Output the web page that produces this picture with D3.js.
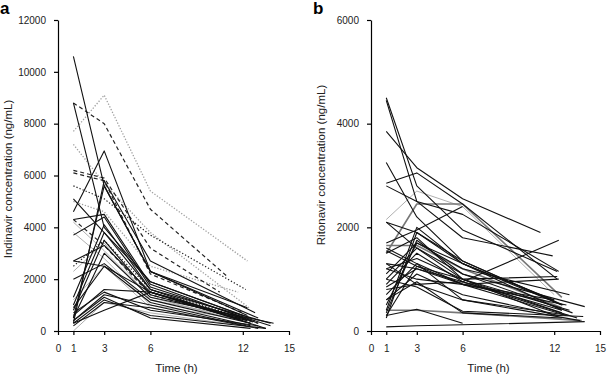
<!DOCTYPE html>
<html>
<head>
<meta charset="utf-8">
<script src="https://cdn.jsdelivr.net/npm/d3@7"></script>
<style>
  body { margin: 0; background: #fff; }
  text { font-family: "Liberation Sans", Arial, sans-serif; }
</style>
</head>
<body>
<div id="container"></div>
<script>
let w = 607;
let h = 375;

// DATA
// sampling times before the last sample, hours
let sampleTimes = [1, 3, 6];
let xTicks = [0, 1, 3, 6, 12, 15];
let indinavirTicks = [0, 2000, 4000, 6000, 8000, 10000, 12000];
let ritonavirTicks = [0, 2000, 4000, 6000];

// panel a: one row per subject -> [1h, 3h, 6h, last]
let indinavirConc = [
  [7700, 9100, 5400, 2700],
  [8800, 8000, 4700, 2100],
  [7200, 5700, 3800, 900],
  [5600, 5100, 3700, 1600],
  [6200, 5900, 3200, 1500],
  [6100, 5800, 2200, 700],
  [5000, 4600, 2500, 1500],
  [2500, 3500, 1600, 400],
  [4300, 3300, 1400, 300],
  [10600, 5600, 2300, 900],
  [8800, 4000, 1900, 500],
  [4600, 6950, 2300, 600],
  [300, 5800, 2700, 700],
  [500, 5600, 2300, 500],
  [5100, 3800, 1900, 600],
  [4300, 4500, 1800, 300],
  [3700, 4400, 1700, 200],
  [2700, 2500, 1500, 500],
  [2700, 3300, 1500, 100],
  [2000, 2600, 1200, 300],
  [1300, 4100, 1600, 300],
  [800, 3500, 1400, 400],
  [600, 1600, 1500, 300],
  [400, 1400, 1000, 200],
  [200, 1100, 900, 100],
  [300, 1200, 600, 100],
  [900, 2500, 1100, 200],
  [500, 3000, 1300, 300],
  [700, 1500, 800, 200],
  [400, 1300, 500, 100],
  [1000, 3800, 1600, 400],
  [300, 800, 1500, 400],
  [0, 1100, 700, 200],
  [4200, 3100, 1300, 300],
  [2300, 3400, 1200, 500],
  [1200, 2500, 900, 150],
  [3800, 2800, 1000, 400]
];
let indinavirLastTime = [12.3, 11, 12.4, 12.2, 10.5, 12, 11.7, 12.5, 13,
  12.3, 12.5, 12.3, 12.8, 13, 12, 13, 13.8, 12, 13.5, 12.5, 13.8, 12.3, 12.5,
  12.2, 13, 13.5, 12.5, 14, 13, 12.5, 12, 12.5, 12, 12.5, 12, 13, 12.5];
let indinavirStyle = ["dotg", "dash", "dotg", "dotk", "dash", "dash", "dotg", "dotk", "dash",
  "solid", "solid", "solid", "solid", "solid", "solid", "solid", "solid", "solid", "solid",
  "solid", "solid", "solid", "solid", "solid", "solid", "solid", "solid", "solid", "solid",
  "solid", "solid", "solid", "gray", "gray", "gray", "gray", "gray"];

// panel b: one row per subject -> [1h, 3h, 6h, last] (null = not sampled)
let ritonavirConc = [
  [4500, 2800, 1950, 1150],
  [4450, 2500, 1800, 1450],
  [3850, 3150, 2550, 1900],
  [3250, 2200, 1350, 500],
  [2850, 3050, 2450, 1000],
  [2800, 2500, 2250, 1150],
  [2150, 2700, 2400, 700],
  [2100, 1900, 1300, 500],
  [1700, 1950, 2400, null],
  [1650, 1650, 1200, 450],
  [1600, 1300, 900, 300],
  [1500, 1800, 1000, 400],
  [1300, 1200, 950, 1750],
  [1200, 1400, 1000, 1050],
  [1100, 1700, 1300, 600],
  [1000, 1600, 1100, 470],
  [900, 1500, 950, 400],
  [850, 1200, 900, 1000],
  [800, 900, 950, 250],
  [700, 1300, 600, 300],
  [600, 1100, 700, 300],
  [400, 2000, 1300, 400],
  [350, 1750, 1100, 350],
  [300, 1250, 1000, 300],
  [300, 420, 150, null],
  [80, 100, 120, 180],
  [400, 400, 350, 200],
  [250, 1900, 1350, 500],
  [1300, 900, 600, 200],
  [1200, 1000, 900, 600],
  [2100, 1600, 1000, 350],
  [500, 1700, 1200, 700],
  [1000, 850, 380, 280],
  [600, 950, 350, 250],
  [1550, 1250, 900, 500],
  [1500, 2450, 2450, 650]
];
let ritonavirLastTime = [12.2, 11.9, 11.1, 12.5, 12.2, 12.3, 12, 12.5, null, 12.5,
  12.8, 13, 12.3, 12.2, 12, 14, 12.5, 12.3, 13.5, 13, 12.3, 12.5, 13.2, 12,
  null, 14, 13.8, 12.6, 13.7, 12, 12.5, 13, 13.9, 12.5, 12.8, 12.5];
let ritonavirStyle = ["solid", "solid", "solid", "solid", "solid", "solid", "gray", "solid",
  "solid", "grayk", "solid", "solid", "solid", "solid", "solid", "solid", "solid", "solid",
  "solid", "solid", "solid", "solid", "solid", "solid", "solid", "solid", "grayk", "solid",
  "solid", "solid", "solid", "solid", "solid", "solid", "solid", "grayk"];

// line looks
let strokeOf = { solid: "#111", dash: "#222", dotk: "#222", dotg: "#a0a0a0", gray: "#9a9a9a", grayk: "#777" };
let widthOf = { solid: 1.1, dash: 1.2, dotk: 1.2, dotg: 1.3, gray: 0.8, grayk: 1.6 };
let dashOf = { solid: null, dash: "4,3", dotk: "1.3,2", dotg: "1.3,1.7", gray: null, grayk: null };

// SVG
let viz = d3.select("#container").append("svg")
    .attr("width", w)
    .attr("height", h)
    .style("background-color", "white")
;

function drawPanel(left, right, yMax, yTicks, conc, lastTime, styles, letter, yTitle, titleY) {
  let xScale = d3.scaleLinear().domain([0, 15]).range([left, right]);
  let yScale = d3.scaleLinear().domain([0, yMax]).range([331, 20]);

  // turn each subject row into points
  let subjects = conc.map(function(row, i){
    let pts = sampleTimes.map(function(t, j){ return { t: t, c: row[j] }; });
    if (lastTime[i] != null && row[3] != null) {
      pts.push({ t: lastTime[i], c: row[3] });
    }
    return { style: styles[i], pts: pts.filter(function(p){ return p.c != null; }) };
  });

  let lineMaker = d3.line()
      .x(function(d){ return xScale(d.t); })
      .y(function(d){ return yScale(d.c); })
  ;

  // grey / dotted ones underneath, black on top
  let order = { gray: 0, dotg: 1, grayk: 2, dotk: 3, dash: 4, solid: 5 };
  subjects.sort(function(a, b){ return order[a.style] - order[b.style]; });

  viz.append("g").selectAll("path").data(subjects).enter()
    .append("path")
      .attr("d", function(d){ return lineMaker(d.pts); })
      .attr("fill", "none")
      .attr("stroke", function(d){ return strokeOf[d.style]; })
      .attr("stroke-width", function(d){ return widthOf[d.style]; })
      .attr("stroke-dasharray", function(d){ return dashOf[d.style]; })
      .attr("stroke-linejoin", "round")
  ;

  // AXES
  let xAxis = d3.axisBottom(xScale).tickValues(xTicks).tickSize(4).tickSizeOuter(0).tickPadding(10);
  let xg = viz.append("g").attr("transform", "translate(0,331)").call(xAxis);
  let yAxis = d3.axisLeft(yScale).tickValues(yTicks).tickSize(4).tickSizeOuter(0).tickPadding(8);
  let yg = viz.append("g").attr("transform", "translate(" + left + ",0)").call(yAxis);
  [xg, yg].forEach(function(g){
    g.select(".domain").attr("stroke", "#000").attr("stroke-width", 1.2);
    g.selectAll(".tick line").attr("stroke", "#000").attr("stroke-width", 1.2);
    g.selectAll(".tick text").attr("fill", "#222").style("font-size", "10px")
      .style("font-family", "'Liberation Sans', Arial, sans-serif");
  });
  yg.selectAll(".tick text").text(function(d){ return String(d); });

  viz.append("text")
      .attr("x", (left + right) / 2 + 3)
      .attr("y", 372)
      .attr("text-anchor", "middle")
      .attr("fill", "#222")
      .style("font-size", "11.5px")
      .text("Time (h)")
  ;
  viz.append("text")
      .attr("transform", "translate(" + (left - 46) + "," + titleY + ") rotate(-90)")
      .attr("text-anchor", "middle")
      .attr("fill", "#222")
      .style("font-size", "11.5px")
      .text(yTitle)
  ;
  viz.append("text")
      .attr("x", left - 58)
      .attr("y", 14)
      .attr("fill", "#000")
      .style("font-size", "17px")
      .style("font-weight", "bold")
      .text(letter)
  ;
}

drawPanel(58, 289, 12000, indinavirTicks, indinavirConc, indinavirLastTime, indinavirStyle,
  "a", "Indinavir concentration (ng/mL)", 179);
drawPanel(371, 600, 6000, ritonavirTicks, ritonavirConc, ritonavirLastTime, ritonavirStyle,
  "b", "Ritonavir concentration (ng/mL)", 165);
</script>
</body>
</html>
